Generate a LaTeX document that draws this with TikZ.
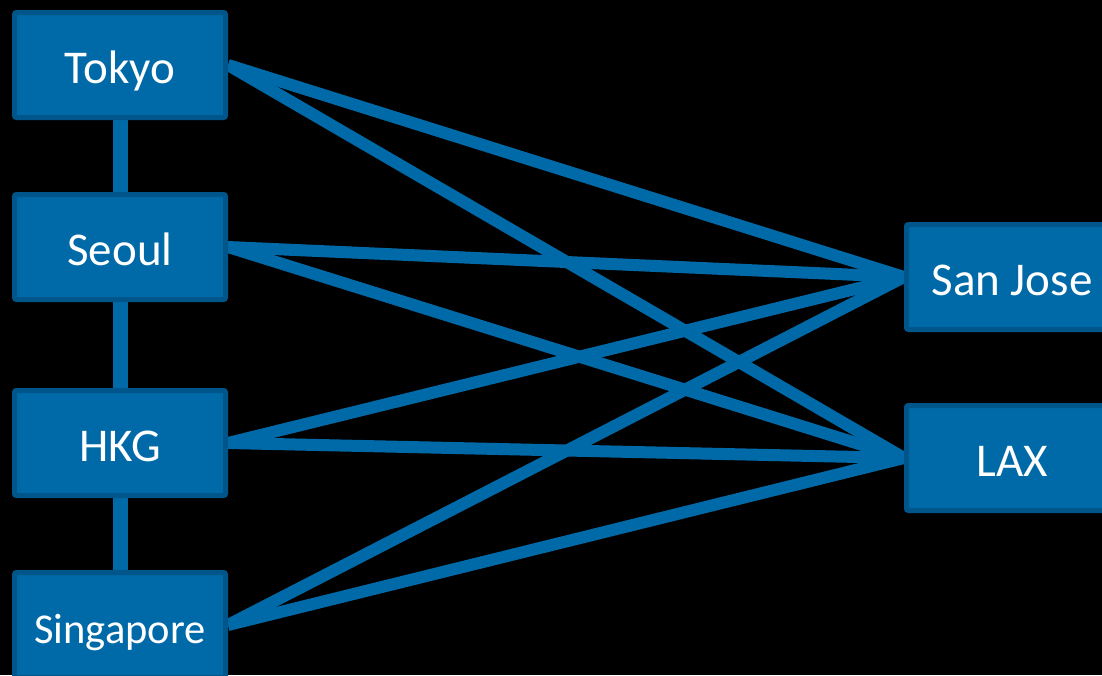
\documentclass[tikz,border=0pt]{standalone}
\usepackage{fontspec}
\setmainfont{Carlito}
\usetikzlibrary{backgrounds}
\definecolor{boxfill}{RGB}{0,106,168}
\definecolor{boxedge}{RGB}{0,86,138}
\tikzset{
  city/.style={draw=boxedge, fill=boxfill, line width=5pt, rounded corners=2pt,
    minimum width=211pt, minimum height=105pt, inner sep=0pt,
    text=white, font=\fontsize{47pt}{52pt}\selectfont,
    text height=41pt, text depth=5pt},
  smallcity/.style={city, font=\fontsize{42.5pt}{48pt}\selectfont},
  link/.style={draw=boxfill, line width=12pt},
  vlink/.style={draw=boxfill, line width=15pt}
}
\begin{document}
\begin{tikzpicture}[x=1pt,y=-1pt]
\useasboundingbox (0,0) rectangle (1102,675);
\clip (0,0) rectangle (1102,675);
\node[city] (tokyo) at (120,65) {Tokyo};
\node[city] (seoul) at (120,247) {Seoul};
\node[city] (hkg) at (120,443) {HKG};
\node[smallcity] (sing) at (120,625) {Singapore};
\node[city] (sj) at (1012,277) {San Jose};
\node[city] (lax) at (1012,458) {LAX};
\begin{pgfonlayer}{background}
\fill[black] (0,0) rectangle (1102,675);
\draw[vlink] (tokyo.south) -- (seoul.north);
\draw[vlink] (seoul.south) -- (hkg.north);
\draw[vlink] (hkg.south) -- (sing.north);
\foreach \a in {tokyo,seoul,hkg,sing}{
  \draw[link] (\a.east) -- (sj.west);
  \draw[link] (\a.east) -- (lax.west);
}
\end{pgfonlayer}
\end{tikzpicture}
\end{document}
